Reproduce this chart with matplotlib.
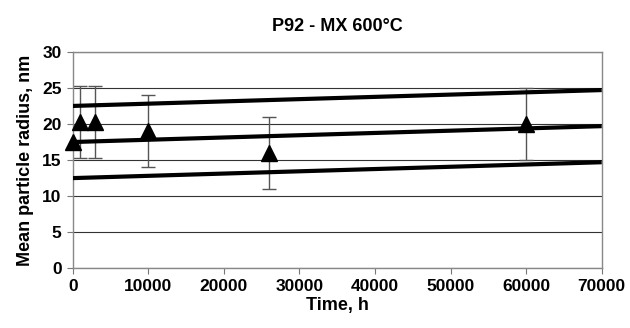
import numpy as np
import matplotlib
matplotlib.use("Agg")
import matplotlib.pyplot as plt

plt.rcParams['font.family'] = ['Liberation Sans', 'DejaVu Sans']

# measured points
time_h = [0, 1000, 3000, 10000, 26000, 60000]
radius = [17.5, 20.3, 20.3, 19.0, 16.0, 20.0]
err = [0, 5, 5, 5, 5, 5]

# model band (upper / mean / lower)
line_x = [0, 70000]
upper = [22.5, 24.7]
mean = [17.5, 19.7]
lower = [12.5, 14.7]

xticks = [0, 10000, 20000, 30000, 40000, 50000, 60000, 70000]
yticks = [0, 5, 10, 15, 20, 25, 30]

fig = plt.figure(figsize=(6.3, 3.28), dpi=100)
ax = fig.add_axes([0.1154, 0.182, 0.8397, 0.660])

for y in yticks:
    ax.axhline(y, color='#333333', lw=0.8, zorder=1)

for ys in (upper, mean, lower):
    ax.plot(line_x, ys, color='black', lw=3, solid_capstyle='butt', zorder=3)

ax.errorbar(time_h, radius, yerr=err, fmt='none', ecolor='#555555',
            elinewidth=1, capsize=5, capthick=1, zorder=2)
ax.plot(time_h, radius, '^', color='black', ms=12, zorder=4, clip_on=False)

ax.set_xlim(0, 70000)
ax.set_ylim(0, 30)
ax.set_xticks(xticks)
ax.set_yticks(yticks)
ax.tick_params(direction='out', length=4, color='#777777', labelsize=12.5, pad=4)
for lab in ax.get_xticklabels() + ax.get_yticklabels():
    lab.set_fontweight('bold')
for s in ax.spines.values():
    s.set_color('#888888')
    s.set_linewidth(1)

ax.set_xlabel('Time, h', fontsize=13, fontweight='bold', labelpad=2)
ax.set_ylabel('Mean particle radius, nm', fontsize=13, fontweight='bold', labelpad=6)
ax.set_title('P92 - MX 600°C', fontsize=13, fontweight='bold', pad=15)

fig.savefig('out.png', dpi=100)
